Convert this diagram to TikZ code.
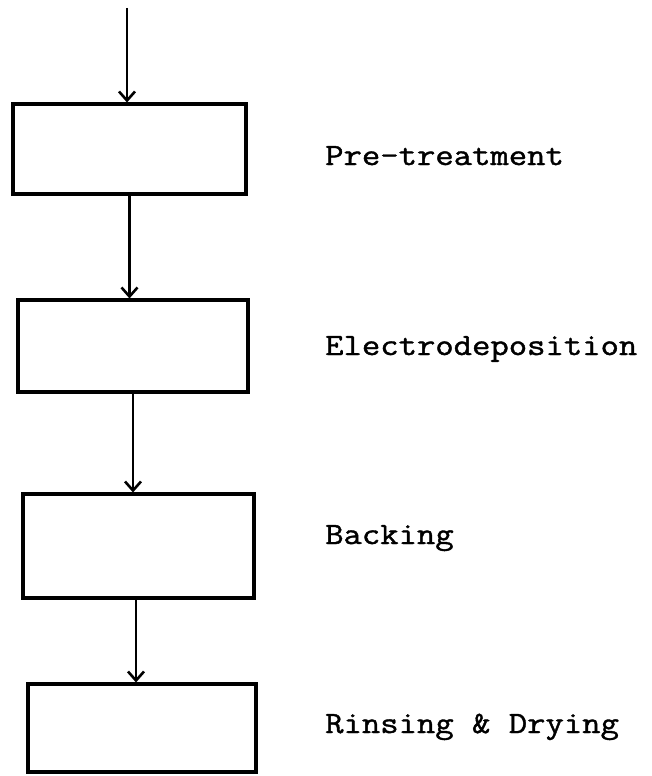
\documentclass[tikz,border=0pt]{standalone}
\usepackage{fontspec}
\usepackage{graphicx}
\newfontfamily\stagefont[FakeBold=1.2]{Latin Modern Mono}
\usetikzlibrary{arrows.meta}
\newcommand{\stagetext}[1]{\scalebox{1.15}[1]{#1}}
\tikzset{
  stagebox/.style={draw=black, line width=3.1pt, rectangle, inner sep=0pt},
  flow/.style={draw=black, line width=2.9pt, -{Straight Barb[length=9pt,width=16pt,line width=2.6pt]}},
  stagelabel/.style={anchor=base west, inner sep=0pt, font=\stagefont\fontsize{31}{31}\selectfont}
}
\begin{document}
\begin{tikzpicture}[x=1pt,y=-1pt]
\useasboundingbox (0,0) rectangle (651,776);
\node[stagebox, minimum width=233pt, minimum height=90pt] (b1) at (129.5,149) {};
\node[stagebox, minimum width=230pt, minimum height=92pt] (b2) at (133,346) {};
\node[stagebox, minimum width=231pt, minimum height=104pt] (b3) at (138.5,546) {};
\node[stagebox, minimum width=228pt, minimum height=88pt] (b4) at (142,728) {};
\coordinate (start) at (127,8);
\draw[flow] (start) -- (start |- b1.north);
\draw[flow] (b1.south) -- (b1.south |- b2.north);
\draw[flow] (b2.south) -- (b2.south |- b3.north);
\draw[flow] ([xshift=-2.5pt]b3.south) -- ([xshift=-2.5pt]b3.south |- b4.north);
\node[stagelabel] (l1) at (325,165) {\stagetext{Pre-treatment}};
\node[stagelabel] (l2) at (325,355) {\stagetext{Electrodeposition}};
\node[stagelabel] (l3) at (325,544) {\stagetext{Backing}};
\node[stagelabel] (l4) at (325,733) {\stagetext{Rinsing \& Drying}};
\end{tikzpicture}
\end{document}
